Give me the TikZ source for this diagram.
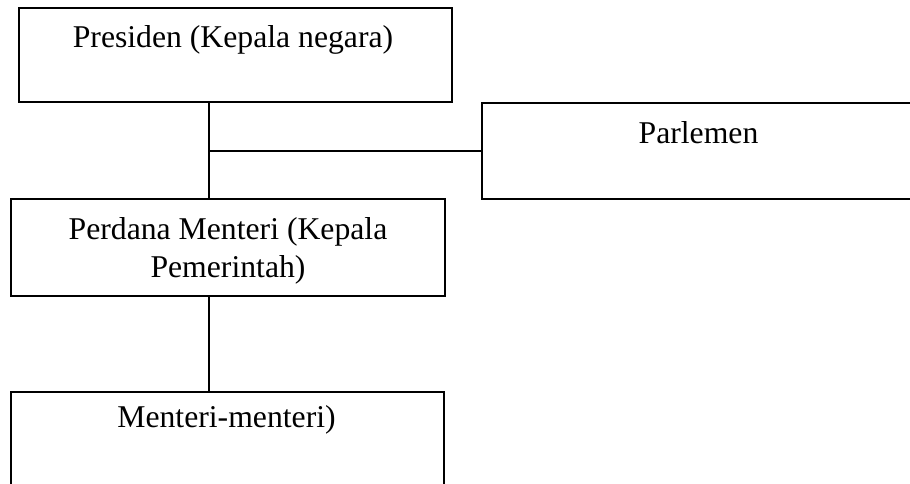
\documentclass[tikz,border=0pt]{standalone}
\usepackage{fontspec}
\setmainfont{Liberation Serif}
\begin{document}
\begin{tikzpicture}[x=1pt,y=-1pt,
  orgbox/.style={draw=black, line width=1.2pt, rectangle, inner sep=0pt},
  orgtext/.style={anchor=base, inner sep=0pt, align=center,
    font=\fontsize{31.7}{38}\selectfont},
  link/.style={draw=black, line width=1.2pt}]
  \clip (0,0) rectangle (910,483);
  % boxes
  \node[orgbox, minimum width=433pt, minimum height=94pt] (pres) at (235.5,55) {};
  \node[orgbox, minimum width=434pt, minimum height=96pt] (parl) at (699,151) {};
  \node[orgbox, minimum width=434pt, minimum height=97pt] (pm) at (228,247.5) {};
  \node[orgbox, minimum width=433pt, minimum height=96pt] (men) at (227.5,440) {};
  % labels (base anchor sits on the last line's baseline)
  \node[orgtext] (presT) at (233,47) {Presiden (Kepala negara)};
  \node[orgtext] (parlT) at (698.5,143) {Parlemen};
  \node[orgtext] (pmT) at (228,277) {Perdana Menteri (Kepala\\Pemerintah)};
  \node[orgtext] (menT) at (226.5,427) {Menteri-menteri)};
  % connectors
  \coordinate (j) at (209,151);
  \draw[link] (pres.south -| j) -- (pm.north -| j);
  \draw[link] (j) -- (parl.west |- j);
  \draw[link] (pm.south -| j) -- (men.north -| j);
\end{tikzpicture}
\end{document}
